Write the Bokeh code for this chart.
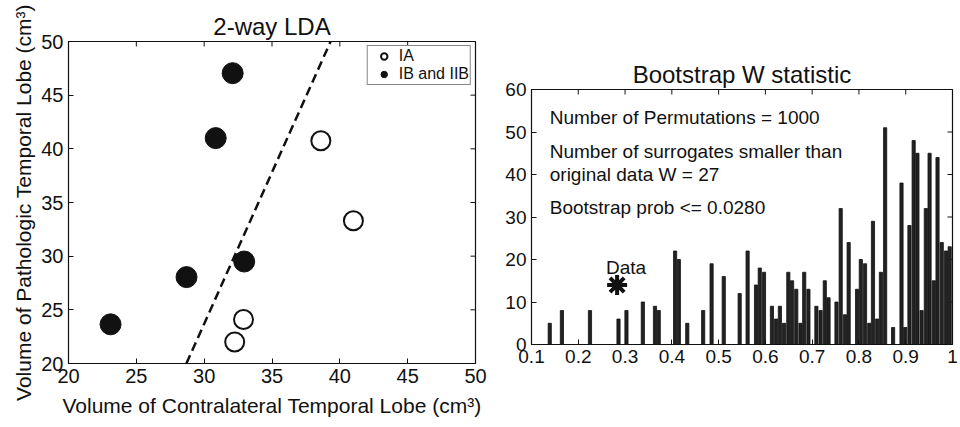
import math
from bokeh.plotting import figure
from bokeh.models import (FixedTicker, Range1d, Legend, LegendItem, Label, ColumnDataSource)
from bokeh.layouts import row
from bokeh.embed import file_html
from bokeh.resources import INLINE

FONT = "Liberation Sans"
INK = "#111111"

# ---------------- left panel data: 2-way LDA ----------------
contra_ia = [38.6, 41.0, 32.9, 32.25]
patho_ia = [40.75, 33.3, 24.1, 22.0]
contra_ib = [32.1, 30.85, 32.95, 28.7, 23.1]
patho_ib = [47.05, 41.0, 29.5, 28.05, 23.65]
lda_x = [28.69, 39.32]
lda_y = [20.0, 50.0]
lda_ticks = [20, 25, 30, 35, 40, 45, 50]
lda_lo, lda_hi = 20, 50

# ---------------- right panel data: bootstrap histogram ----------------
w_bins = [0.139, 0.165, 0.225, 0.286, 0.303, 0.338, 0.364, 0.372, 0.407, 0.415,
          0.433, 0.467, 0.485, 0.511, 0.545, 0.562, 0.580, 0.588, 0.597, 0.614,
          0.623, 0.631, 0.640, 0.649, 0.657, 0.666, 0.675, 0.683, 0.692, 0.709,
          0.718, 0.727, 0.735, 0.752, 0.761, 0.770, 0.778, 0.796, 0.804, 0.813,
          0.822, 0.830, 0.839, 0.847, 0.856, 0.873, 0.891, 0.899, 0.908, 0.917,
          0.925, 0.934, 0.943, 0.951, 0.960, 0.968, 0.977, 0.986, 0.994]
w_counts = [5, 8, 8, 6, 8, 10, 9, 8, 22, 20,
            5, 8, 19, 16, 12, 22, 14, 18, 17, 9,
            6, 9, 5, 17, 15, 13, 5, 17, 13, 9,
            8, 15, 11, 10, 32, 7, 24, 13, 20, 19,
            5, 29, 6, 17, 51, 4, 38, 4, 28, 48,
            45, 8, 32, 45, 15, 44, 24, 22, 23]
data_w = 0.283
data_count = 14
w_ticks = [0.1, 0.2, 0.3, 0.4, 0.5, 0.6, 0.7, 0.8, 0.9, 1.0]
count_ticks = [0, 10, 20, 30, 40, 50, 60]
w_lo, w_hi = 0.1, 1.0
count_lo, count_hi = 0, 60
notes = ["Number of Permutations = 1000",
         "Number of surrogates smaller than",
         "original data W = 27",
         "Bootstrap prob <= 0.0280"]
note_y = [53.4, 45.3, 39.9, 32.3]


def style_axes(p, xticks, yticks, x_hi, y_hi, tick_size):
    for ax in list(p.xaxis) + list(p.yaxis):
        ax.major_tick_in = 5
        ax.major_tick_out = 0
        ax.minor_tick_in = 0
        ax.minor_tick_out = 0
        ax.axis_line_color = INK
        ax.major_tick_line_color = INK
        ax.major_label_text_font = FONT
        ax.major_label_text_font_size = tick_size
        ax.major_label_text_color = INK
        ax.major_label_standoff = 5
        ax.axis_label_text_font = FONT
        ax.axis_label_text_font_style = "normal"
        ax.axis_label_text_color = INK
        ax.axis_label_text_font_size = "21px"
    p.xaxis.ticker = FixedTicker(ticks=xticks)
    p.yaxis.ticker = FixedTicker(ticks=yticks)
    # inward box ticks on the top and right edges (half of each dash is clipped)
    p.scatter(xticks, [y_hi] * len(xticks), marker="dash", angle=math.pi / 2,
              size=10, line_color=INK, line_width=1)
    p.scatter([x_hi] * len(yticks), yticks, marker="dash", angle=0,
              size=10, line_color=INK, line_width=1)
    p.xgrid.visible = False
    p.ygrid.visible = False
    p.outline_line_color = INK
    p.outline_line_width = 1.2
    p.title.text_font = FONT
    p.title.text_font_style = "normal"
    p.title.text_color = INK
    p.title.align = "center"
    p.title.text_font_size = "24px"
    p.title.standoff = 4


# ---------------- left figure ----------------
p1 = figure(width=497, height=425, output_backend="svg", toolbar_location=None,
            x_range=Range1d(lda_lo, lda_hi), y_range=Range1d(lda_lo, lda_hi),
            min_border_left=68, min_border_right=22, min_border_top=41,
            min_border_bottom=62, title="2-way LDA")
p1.xaxis.axis_label = "Volume of Contralateral Temporal Lobe (cm³)"
p1.yaxis.axis_label = "Volume of Pathologic Temporal Lobe (cm³)"
style_axes(p1, lda_ticks, lda_ticks, lda_hi, lda_hi, "20px")
p1.xaxis.axis_label_standoff = 8
p1.yaxis.axis_label_standoff = 3

p1.line(lda_x, lda_y, line_color=INK, line_width=2.5, line_dash="9 5")
r_ia = p1.scatter(contra_ia, patho_ia, marker="circle", size=19, fill_color="white",
                  line_color=INK, line_width=2)
r_ib = p1.scatter(contra_ib, patho_ib, marker="circle", size=21, fill_color=INK,
                  line_color=INK, line_width=1)
leg = Legend(items=[LegendItem(label="IA", renderers=[r_ia]),
                    LegendItem(label="IB and IIB", renderers=[r_ib])],
             location="top_right", margin=4, padding=1, spacing=0,
             glyph_width=30, glyph_height=16, label_height=15, label_standoff=0,
             label_text_font=FONT, label_text_font_size="16px", label_text_color=INK,
             border_line_color=INK, border_line_width=1, background_fill_alpha=1)
p1.add_layout(leg)

# ---------------- right figure ----------------
p2 = figure(width=461, height=425, output_backend="svg", toolbar_location=None,
            x_range=Range1d(w_lo, w_hi), y_range=Range1d(count_lo, count_hi),
            min_border_left=34, min_border_right=6, min_border_top=89,
            min_border_bottom=81, title="Bootstrap W statistic")
style_axes(p2, w_ticks, count_ticks, w_hi, count_hi, "19px")
p2.xaxis.major_label_overrides = {1: "1"}

src = ColumnDataSource(dict(w=w_bins, n=w_counts))
p2.vbar(x="w", top="n", width=0.0068, bottom=0, source=src,
        fill_color="#222222", line_color=INK, line_width=0.8)
p2.scatter([data_w], [data_count], marker="asterisk", size=20, line_color=INK, line_width=4)
p2.add_layout(Label(x=data_w, y=data_count, text="Data", x_offset=9, y_offset=18,
                    text_align="center", text_baseline="alphabetic",
                    text_font=FONT, text_font_size="19px", text_color=INK))
for t, yy in zip(notes, note_y):
    p2.add_layout(Label(x=0.139, y=yy, text=t, text_align="left", text_baseline="alphabetic",
                        text_font=FONT, text_font_size="19px", text_color=INK))

for p in (p1, p2):
    p.frame_align = False

layout = row(p1, p2)
open("out.html", "w").write(file_html(layout, INLINE))
